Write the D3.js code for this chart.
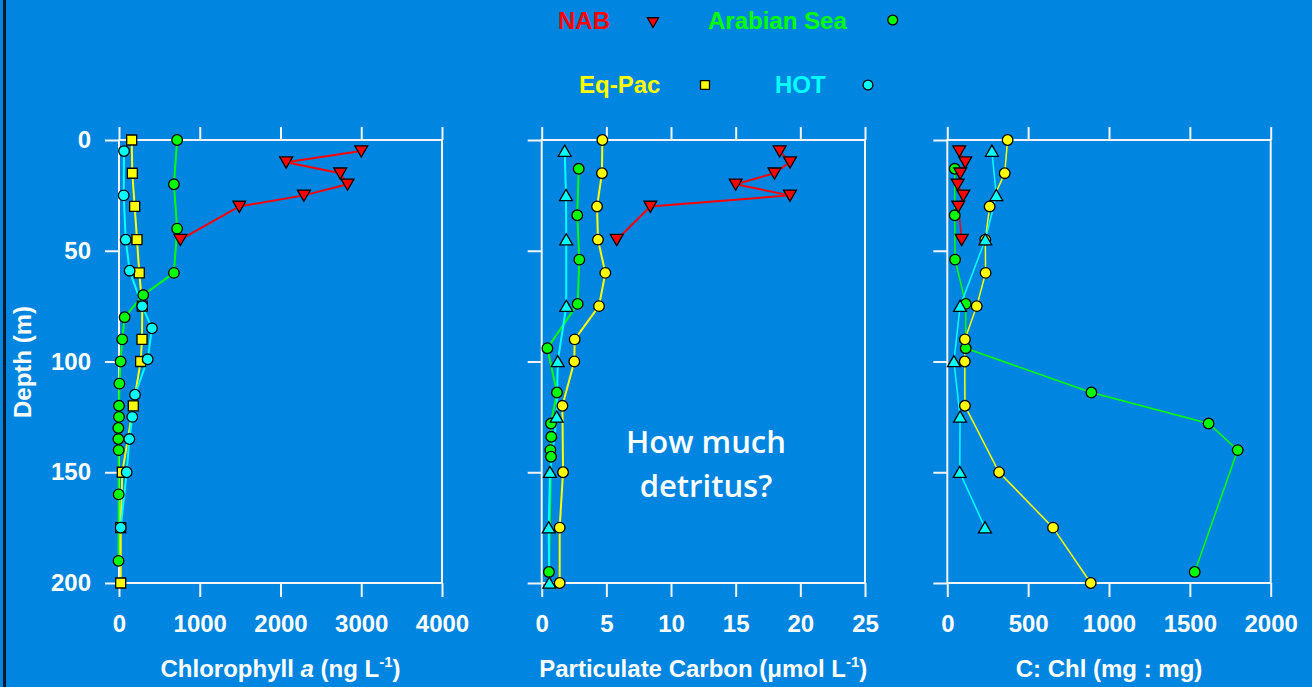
<!DOCTYPE html>
<html lang="en">
<head>
<meta charset="UTF-8">
<title>Depth profiles</title>
<script src="https://d3js.org/d3.v7.min.js"></script>
<style>
  body { margin: 0; padding: 0; background: #0086e1; overflow: hidden; }
  svg { display: block; font-family: Arial, "Liberation Sans", sans-serif; }
  .axis path { display: none; }
  .axis line { stroke: #f4f4f4; stroke-width: 2; }
  .axis text { fill: #fff; font-size: 24px; font-weight: bold; }
  .frame { fill: none; stroke: #f4f4f4; stroke-width: 2; }
  .title { fill: #fff; font-size: 24px; font-weight: bold; }
</style>
</head>
<body>
<div id="chart"></div>
<script>
// ---- data: [value, depth] ----
const depthTicks = [0, 50, 100, 150, 200];

// Chlorophyll a (ng/L)
const chlNAB = [[3000,5],[2070,10],[2740,15],[2830,20],[2290,25],[1490,30],[760,45]];
const chlArabian = [[720,0],[680,20],[720,40],[680,60],[300,70],[70,80],[40,90],[20,100],[5,110],[0,120],[0,125],[-8,130],[-8,135],[-4,140],[-4,160],[-6,190]];
const chlEqPac = [[157,0],[165,15],[194,30],[223,45],[251,60],[288,75],[285,90],[268,100],[177,120],[41,150],[21,175],[21,200]];
const chlHOT = [[62,5],[58,25],[83,45],[132,59],[288,75],[408,85],[355,99],[198,115],[165,125],[128,135],[95,150],[21,175]];
const chlTicks = [0, 1000, 2000, 3000, 4000];

// Particulate carbon (umol/L)
const pcNAB = [[18.4,5],[19.2,10],[18.0,15],[15.0,20],[19.2,25],[8.4,30],[5.8,45]];
const pcArabian = [[2.86,13],[2.75,34],[2.91,54],[2.78,74],[0.44,94],[1.18,114],[0.72,128],[0.74,134],[0.67,140],[0.72,143],[0.56,195]];
const pcEqPac = [[4.69,0],[4.66,15],[4.28,30],[4.35,45],[4.92,60],[4.43,75],[2.55,90],[2.52,100],[1.60,120],[1.65,150],[1.39,175],[1.39,200]];
const pcHOT = [[1.78,5],[1.88,25],[1.90,45],[1.90,75],[1.24,100],[1.16,125],[0.64,150],[0.54,175],[0.59,200]];
const pcTicks = [0, 5, 10, 15, 20, 25];

// C:Chl (mg:mg)
const cchlNAB = [[74,5],[111,10],[80,15],[64,20],[99,25],[68,30],[89,45]];
const cchlArabian = [[46,13],[46,34],[48,54],[114,74],[114,94],[891,114],[1616,128],[1796,140],[1530,195]];
const cchlEqPac = [[373,0],[355,15],[262,30],[235,45],[237,60],[182,75],[109,90],[108,100],[109,120],[320,150],[654,175],[887,200]];
const cchlHOT = [[276,5],[303,25],[235,45],[79,75],[41,100],[79,125],[77,150],[233,175]];
const cchlTicks = [0, 500, 1000, 1500, 2000];

const colors = { NAB: "#ff0000", Arabian: "#00ff00", EqPac: "#ffff00", HOT: "#00ffff" };

const W = 1312, H = 687;
const svg = d3.select("#chart").append("svg").attr("width", W).attr("height", H);
svg.append("rect").attr("width", W).attr("height", H).attr("fill", "#0086e1");
svg.append("rect").attr("x", 3).attr("y", 0).attr("width", 3).attr("height", H).attr("fill", "#071a2b");

const plotTop = 140, plotBottom = 583;
const y = d3.scaleLinear().domain([0, 200]).range([plotTop, plotBottom]);

const symbols = {
  tri: d3.symbol().type(d3.symbolTriangle).size(72),
  circle: d3.symbol().type(d3.symbolCircle).size(88),
  square: d3.symbol().type(d3.symbolSquare).size(100)
};

const panels = [
  { left: 119, right: 442, max: 4000, ticks: chlTicks, showY: true,
    series: [
      { data: chlArabian, color: colors.Arabian, sym: "circle" },
      { data: chlNAB, color: colors.NAB, sym: "tri", down: true },
      { data: chlEqPac, color: colors.EqPac, sym: "square" },
      { data: chlHOT, color: colors.HOT, sym: "circle" }
    ], lw: 2 },
  { left: 541.7, right: 865, max: 25, ticks: pcTicks, showY: false,
    series: [
      { data: pcArabian, color: colors.Arabian, sym: "circle" },
      { data: pcNAB, color: colors.NAB, sym: "tri", down: true },
      { data: pcEqPac, color: colors.EqPac, sym: "circle" },
      { data: pcHOT, color: colors.HOT, sym: "tri" }
    ], lw: 2 },
  { left: 947.3, right: 1270.7, max: 2000, ticks: cchlTicks, showY: false,
    series: [
      { data: cchlArabian, color: colors.Arabian, sym: "circle" },
      { data: cchlNAB, color: colors.NAB, sym: "tri", down: true },
      { data: cchlEqPac, color: colors.EqPac, sym: "circle" },
      { data: cchlHOT, color: colors.HOT, sym: "tri" }
    ], lw: 1.5 }
];

panels.forEach(p => {
  const x = d3.scaleLinear().domain([0, p.max]).range([p.left, p.right]);

  svg.append("rect").attr("class", "frame")
    .attr("x", p.left).attr("y", plotTop)
    .attr("width", p.right - p.left).attr("height", plotBottom - plotTop);

  svg.append("g").attr("class", "axis")
    .attr("transform", `translate(0,${plotTop})`)
    .call(d3.axisTop(x).tickValues(p.ticks).tickSize(13).tickFormat(""));

  svg.append("g").attr("class", "axis")
    .attr("transform", `translate(0,${plotBottom})`)
    .call(d3.axisBottom(x).tickValues(p.ticks).tickSize(14).tickPadding(18).tickFormat(d3.format("d")));

  svg.append("g").attr("class", "axis")
    .attr("transform", `translate(${p.left},0)`)
    .call(d3.axisLeft(y).tickValues(depthTicks).tickSize(14).tickPadding(14)
      .tickFormat(p.showY ? d3.format("d") : ""));

  const line = d3.line().x(d => x(d[0])).y(d => y(d[1]));

  p.series.forEach(s => {
    svg.append("path").datum(s.data)
      .attr("d", line)
      .attr("fill", "none")
      .attr("stroke", s.color)
      .attr("stroke-width", p.lw);
  });
  p.series.forEach(s => {
    svg.append("g").selectAll("path").data(s.data).enter().append("path")
      .attr("d", symbols[s.sym])
      .attr("transform", d => `translate(${x(d[0])},${y(d[1]) + (s.sym === "tri" ? (s.down ? -1.5 : 1.5) : 0)})` + (s.down ? " rotate(180)" : ""))
      .attr("fill", s.color)
      .attr("stroke", "#000")
      .attr("stroke-width", 1.3);
  });
});

// axis titles
function titleWithSup(cx, pre, italic, mid, sup, post) {
  const t = svg.append("text").attr("class", "title").attr("x", cx).attr("y", 677)
    .attr("text-anchor", "middle");
  t.append("tspan").text(pre);
  if (italic) t.append("tspan").attr("font-style", "italic").text(italic);
  t.append("tspan").text(mid);
  t.append("tspan").attr("dy", -10).attr("font-size", 15).text(sup);
  t.append("tspan").attr("dy", 10).text(post);
}
titleWithSup(280.5, "Chlorophyll ", "a", " (ng L", "-1", ")");
titleWithSup(703.3, "Particulate Carbon (", null, "\u03bcmol L", "-1", ")");
svg.append("text").attr("class", "title").attr("x", 1109).attr("y", 677)
  .attr("text-anchor", "middle").text("C: Chl (mg : mg)");

svg.append("text").attr("class", "title")
  .attr("transform", "translate(31,362) rotate(-90)")
  .attr("text-anchor", "middle").attr("font-size", 23).text("Depth (m)");

// legend
const legend = [
  { name: "NAB", color: colors.NAB, sym: "tri", down: true, tx: 558, mx: 653, by: 29, my: 21 },
  { name: "Arabian Sea", color: colors.Arabian, sym: "circle", tx: 708, mx: 892.7, by: 29, my: 20 },
  { name: "Eq-Pac", color: colors.EqPac, sym: "square", tx: 579, mx: 705, by: 93, my: 85 },
  { name: "HOT", color: colors.HOT, sym: "circle", tx: 775, mx: 868, by: 93, my: 85 }
];
legend.forEach(l => {
  svg.append("text").attr("x", l.tx).attr("y", l.by)
    .attr("fill", l.color).attr("font-size", 24).attr("font-weight", "bold").text(l.name);
  svg.append("path").attr("d", l.sym === "tri" ? d3.symbol().type(d3.symbolTriangle).size(55)() :
      l.sym === "square" ? d3.symbol().type(d3.symbolSquare).size(80)() : d3.symbol().type(d3.symbolCircle).size(75)())
    .attr("transform", `translate(${l.mx},${l.my})` + (l.down ? " rotate(180)" : ""))
    .attr("fill", l.color).attr("stroke", "#000").attr("stroke-width", 1.3);
});

// annotation
const note = svg.append("text").attr("fill", "#fff").attr("font-family", "'Open Sans', sans-serif")
  .attr("font-weight", 600).attr("font-size", 31).attr("text-anchor", "middle");
note.append("tspan").attr("x", 706).attr("y", 453).text("How much");
note.append("tspan").attr("x", 706).attr("y", 497).text("detritus?");
</script>
</body>
</html>
